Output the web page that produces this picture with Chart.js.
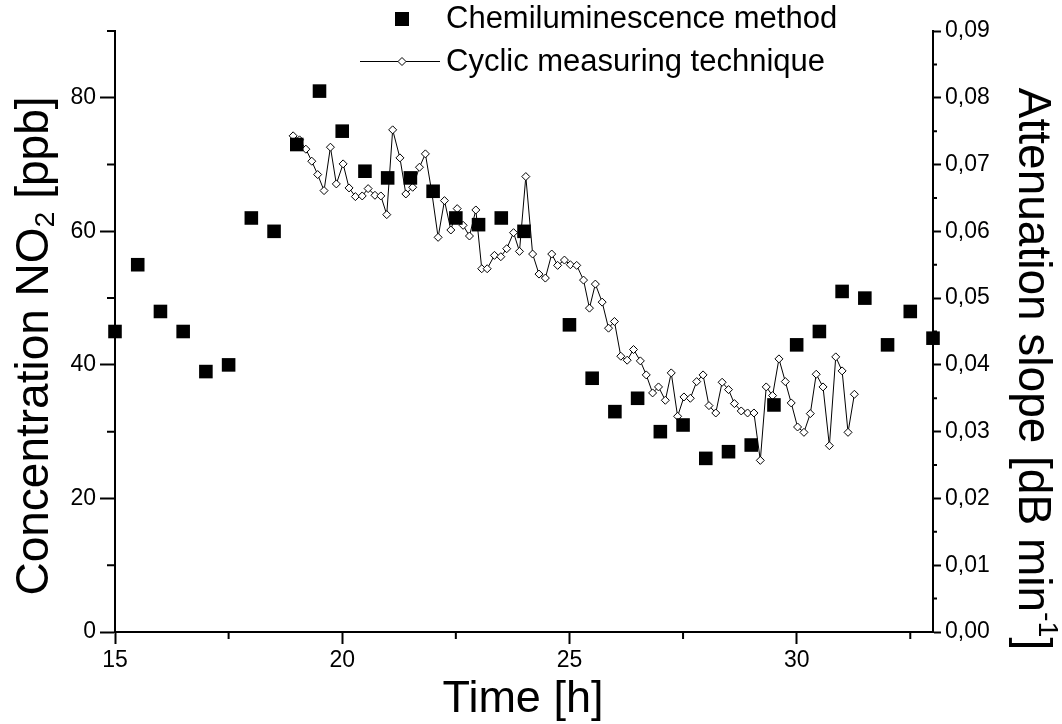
<!DOCTYPE html>
<html>
<head>
<meta charset="utf-8">
<script src="https://cdn.jsdelivr.net/npm/chart.js@4.4.1/dist/chart.umd.min.js"></script>
<style>
html,body{margin:0;padding:0;background:#fff;}
</style>
</head>
<body>
<canvas id="chart" width="1062" height="724"></canvas>
<script>
// Chemiluminescence method: time [h] / NO2 [ppb] (left axis)
const chemTime = [15,15.5,16,16.5,17,17.5,18,18.5,19,19.5,20,20.5,21,21.5,22,22.5,23,23.5,24,25,25.5,26,26.5,27,27.5,28,28.5,29,29.5,30,30.5,31,31.5,32,32.5,33];
const chemNO2 = [45,55,48,45,39,40,62,60,73,81,75,69,68,68,66,62,61,62,60,46,38,33,35,30,31,26,27,28,34,43,45,51,50,43,48,44];

// Cyclic measuring technique: time [h] / attenuation slope [dB/min] (right axis)
const cycTime = [18.92,19.06,19.20,19.33,19.46,19.60,19.74,19.87,20.02,20.15,
  20.29,20.44,20.57,20.72,20.85,20.98,21.11,21.27,21.40,21.55,
  21.70,21.83,21.97,22.11,22.25,22.39,22.53,22.66,22.80,22.94,
  23.07,23.19,23.35,23.49,23.62,23.77,23.90,24.04,24.19,24.33,
  24.47,24.61,24.74,24.89,25.02,25.16,25.31,25.44,25.57,25.72,
  25.86,25.99,26.13,26.27,26.41,26.56,26.69,26.83,26.96,27.11,
  27.24,27.38,27.52,27.66,27.80,27.94,28.07,28.22,28.36,28.50,
  28.63,28.78,28.92,29.06,29.20,29.33,29.47,29.61,29.75,29.88,
  30.02,30.16,30.30,30.43,30.58,30.72,30.86,31.00,31.13,31.27];
const cycSlope = [0.0743,0.0737,0.0723,0.0705,0.0685,0.0661,0.0726,0.0671,0.0701,0.0665,
  0.0652,0.0653,0.0664,0.0654,0.0653,0.0625,0.0752,0.0710,0.0656,0.0666,
  0.0696,0.0716,0.0659,0.0591,0.0646,0.0602,0.0634,0.0609,0.0593,0.0632,
  0.0544,0.0544,0.0564,0.0562,0.0574,0.0598,0.0570,0.0682,0.0566,0.0536,
  0.0530,0.0566,0.0549,0.0557,0.0550,0.0549,0.0527,0.0485,0.0521,0.0494,
  0.0455,0.0465,0.0413,0.0407,0.0423,0.0406,0.0385,0.0358,0.0367,0.0347,
  0.0388,0.0323,0.0352,0.0350,0.0375,0.0385,0.0339,0.0328,0.0374,0.0363,
  0.0342,0.0331,0.0328,0.0328,0.0257,0.0367,0.0354,0.0409,0.0375,0.0343,
  0.0307,0.0299,0.0327,0.0386,0.0367,0.0279,0.0412,0.0391,0.0299,0.0356];

// tick values
const xTicks = [15,20,25,30];
const xMinor = [17.5,22.5,27.5,32.5];
const leftTicks = [0,20,40,60,80];
const leftMinor = [10,30,50,70,90];
const rightTicks = [0,0.01,0.02,0.03,0.04,0.05,0.06,0.07,0.08,0.09];
const rightMinor = [0.005,0.015,0.025,0.035,0.045,0.055,0.065,0.075,0.085];

const FONT = "'Liberation Sans', Arial, sans-serif";

// short minor tick marks, placed through the scales
const minorTicks = {
  id: 'minorTicks',
  afterDraw(chart) {
    const {ctx, chartArea: a, scales: {x, y, y1}} = chart;
    ctx.save();
    ctx.strokeStyle = '#000';
    ctx.lineWidth = 2;
    ctx.beginPath();
    xMinor.forEach(v => { const p = x.getPixelForValue(v); ctx.moveTo(p, a.bottom); ctx.lineTo(p, a.bottom + 7); });
    leftMinor.forEach(v => { const p = y.getPixelForValue(v); ctx.moveTo(a.left, p); ctx.lineTo(a.left - 8, p); });
    rightMinor.forEach(v => { const p = y1.getPixelForValue(v); ctx.moveTo(a.right, p); ctx.lineTo(a.right + 4, p); });
    ctx.stroke();
    ctx.restore();
  }
};

// two-row legend at the top
const legendBox = {
  id: 'legendBox',
  afterDraw(chart) {
    const ctx = chart.ctx;
    ctx.save();
    ctx.fillStyle = '#000';
    ctx.fillRect(395, 12, 14, 14);
    ctx.strokeStyle = '#000';
    ctx.lineWidth = 1;
    ctx.beginPath();
    ctx.moveTo(360, 61.5); ctx.lineTo(440, 61.5);
    ctx.stroke();
    ctx.beginPath();
    ctx.moveTo(402, 57.5); ctx.lineTo(406, 61.5); ctx.lineTo(402, 65.5); ctx.lineTo(398, 61.5); ctx.closePath();
    ctx.fillStyle = '#fff'; ctx.fill(); ctx.stroke();
    ctx.fillStyle = '#000';
    ctx.font = '31px ' + FONT;
    ctx.textBaseline = 'middle';
    ctx.fillText('Chemiluminescence method', 446, 19);
    ctx.fillText('Cyclic measuring technique', 446, 62);
    ctx.restore();
  }
};

// axis titles with sub/superscripts
function drawParts(ctx, parts, cx, cy, rot, size) {
  ctx.save();
  ctx.translate(cx, cy);
  ctx.rotate(rot);
  ctx.textBaseline = 'middle';
  let w = 0;
  parts.forEach(p => { ctx.font = (p.s ? size * 0.62 : size) + 'px ' + FONT; w += ctx.measureText(p.t).width; });
  let x = -w / 2;
  parts.forEach(p => {
    ctx.font = (p.s ? size * 0.62 : size) + 'px ' + FONT;
    const dy = p.s === 1 ? -size * 0.32 : p.s === -1 ? size * 0.25 : 0;
    ctx.fillText(p.t, x, dy);
    x += ctx.measureText(p.t).width;
  });
  ctx.restore();
}
const axisTitles = {
  id: 'axisTitles',
  afterDraw(chart) {
    const ctx = chart.ctx;
    ctx.fillStyle = '#000';
    drawParts(ctx, [{t: 'Time [h]'}], 523, 700, 0, 45);
    drawParts(ctx, [{t: 'Concentration NO'}, {t: '2', s: -1}, {t: ' [ppb]'}], 35, 346, -Math.PI / 2, 46);
    drawParts(ctx, [{t: 'Attenuation slope [dB min'}, {t: '-1', s: 1}, {t: ']'}], 1032, 369, Math.PI / 2, 46);
  }
};

const tickFont = {family: FONT, size: 23};

new Chart(document.getElementById('chart'), {
  type: 'scatter',
  data: {
    datasets: [
      {
        label: 'Chemiluminescence method',
        data: chemTime.map((t, i) => ({x: t, y: chemNO2[i]})),
        yAxisID: 'y',
        showLine: false,
        pointStyle: 'rect',
        pointRadius: 9.6,
        backgroundColor: '#000',
        borderColor: '#000',
        borderWidth: 0,
        clip: false
      },
      {
        label: 'Cyclic measuring technique',
        data: cycTime.map((t, i) => ({x: t, y: cycSlope[i]})),
        yAxisID: 'y1',
        showLine: true,
        borderColor: '#000',
        borderWidth: 1,
        pointStyle: 'rectRot',
        pointRadius: 4,
        pointBackgroundColor: '#fff',
        pointBorderColor: '#000',
        pointBorderWidth: 1
      }
    ]
  },
  options: {
    responsive: false,
    animation: false,
    layout: {padding: {top: 31, left: 0, right: 0, bottom: 0}, autoPadding: false},
    plugins: {legend: {display: false}, tooltip: {enabled: false}},
    scales: {
      x: {
        type: 'linear', position: 'bottom', min: 15, max: 33,
        afterBuildTicks: s => { s.ticks = xTicks.map(v => ({value: v})); },
        afterFit: s => { s.height = 92; },
        grid: {drawOnChartArea: false, tickLength: 12, tickColor: '#000', tickWidth: 2},
        border: {color: '#000', width: 2},
        ticks: {color: '#000', font: tickFont, padding: 3, maxRotation: 0, autoSkip: false}
      },
      y: {
        type: 'linear', position: 'left', min: 0, max: 90,
        afterBuildTicks: s => { s.ticks = leftTicks.map(v => ({value: v})); },
        afterFit: s => { s.width = 115; },
        grid: {drawOnChartArea: false, tickLength: 15, tickColor: '#000', tickWidth: 2},
        border: {color: '#000', width: 2},
        ticks: {color: '#000', font: tickFont, padding: 4}
      },
      y1: {
        type: 'linear', position: 'right', min: 0, max: 0.09,
        afterBuildTicks: s => { s.ticks = rightTicks.map(v => ({value: v})); },
        afterFit: s => { s.width = 129; },
        grid: {drawOnChartArea: false, tickLength: 8, tickColor: '#000', tickWidth: 2},
        border: {color: '#000', width: 2},
        ticks: {color: '#000', font: tickFont, padding: 4, callback: v => v.toFixed(2).replace('.', ',')}
      }
    }
  },
  plugins: [minorTicks, legendBox, axisTitles]
});
</script>
</body>
</html>
